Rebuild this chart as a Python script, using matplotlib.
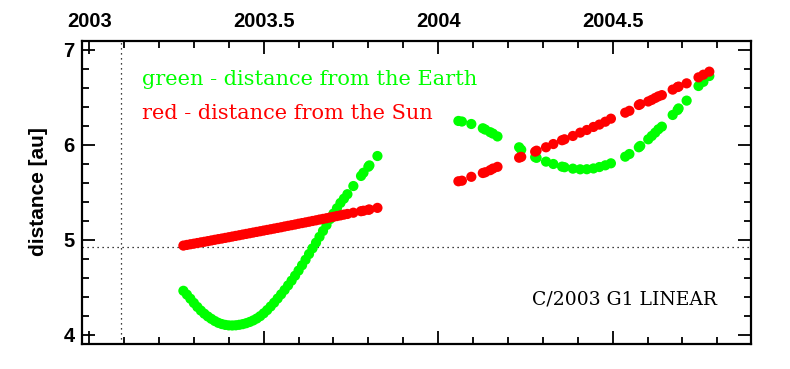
import matplotlib
matplotlib.use("Agg")
import matplotlib.pyplot as plt
from matplotlib.ticker import MultipleLocator, FixedLocator

# ---------------- data ----------------
# dense part of 2003 (dates in decimal years)
dates_2003 = [2003.27, 2003.28, 2003.29, 2003.30, 2003.31, 2003.32, 2003.33, 2003.34,
              2003.35, 2003.36, 2003.37, 2003.38, 2003.39, 2003.40, 2003.41, 2003.42,
              2003.43, 2003.44, 2003.45, 2003.46, 2003.47, 2003.48, 2003.49, 2003.50,
              2003.51, 2003.52, 2003.53, 2003.54, 2003.55, 2003.56, 2003.57, 2003.58,
              2003.59, 2003.60, 2003.61, 2003.62, 2003.63, 2003.64, 2003.65, 2003.66,
              2003.67, 2003.68, 2003.69, 2003.70, 2003.71, 2003.72, 2003.73, 2003.74,
              2003.757, 2003.779, 2003.786, 2003.800, 2003.803, 2003.826]
earth_2003 = [4.465, 4.425, 4.382, 4.337, 4.295, 4.257, 4.224, 4.195,
              4.170, 4.147, 4.128, 4.115, 4.106, 4.101, 4.100, 4.102,
              4.107, 4.114, 4.124, 4.137, 4.153, 4.173, 4.198, 4.228,
              4.262, 4.300, 4.340, 4.384, 4.428, 4.474, 4.522, 4.572,
              4.624, 4.678, 4.734, 4.792, 4.852, 4.912, 4.972, 5.033,
              5.095, 5.157, 5.220, 5.278, 5.334, 5.390, 5.435, 5.482,
              5.568, 5.674, 5.708, 5.771, 5.785, 5.884]
sun_2003 = [4.941, 4.948, 4.955, 4.961, 4.968, 4.975, 4.981, 4.988,
            4.995, 5.002, 5.009, 5.015, 5.022, 5.029, 5.036, 5.043,
            5.050, 5.057, 5.064, 5.071, 5.078, 5.085, 5.092, 5.099,
            5.106, 5.113, 5.120, 5.127, 5.134, 5.142, 5.149, 5.156,
            5.163, 5.171, 5.178, 5.185, 5.192, 5.200, 5.207, 5.215,
            5.222, 5.229, 5.237, 5.244, 5.252, 5.259, 5.267, 5.274,
            5.287, 5.303, 5.308, 5.318, 5.321, 5.338]

dates_2004 = [2004.058, 2004.068, 2004.095, 2004.128, 2004.135, 2004.149, 2004.157,
              2004.170, 2004.232, 2004.238, 2004.278, 2004.282, 2004.309, 2004.330,
              2004.355, 2004.362, 2004.386, 2004.407, 2004.426, 2004.445, 2004.462,
              2004.479, 2004.495, 2004.536, 2004.548, 2004.575, 2004.579, 2004.602,
              2004.612, 2004.622, 2004.631, 2004.641, 2004.672, 2004.686, 2004.689,
              2004.712, 2004.746, 2004.760, 2004.777]
earth_2004 = [6.253, 6.247, 6.221, 6.176, 6.162, 6.135, 6.120,
              6.090, 5.976, 5.950, 5.872, 5.865, 5.825, 5.800,
              5.772, 5.766, 5.751, 5.744, 5.745, 5.753, 5.768,
              5.786, 5.807, 5.877, 5.905, 5.976, 5.990, 6.060,
              6.095, 6.130, 6.165, 6.193, 6.316, 6.368, 6.385,
              6.467, 6.621, 6.665, 6.726]
sun_2004 = [5.618, 5.624, 5.665, 5.705, 5.713, 5.735, 5.752,
            5.770, 5.866, 5.875, 5.930, 5.940, 5.976, 6.010,
            6.050, 6.060, 6.095, 6.130, 6.158, 6.190, 6.215,
            6.245, 6.277, 6.340, 6.360, 6.421, 6.430, 6.458,
            6.475, 6.495, 6.512, 6.525, 6.583, 6.610, 6.615,
            6.649, 6.712, 6.740, 6.772]

perihelion_q = 4.923        # horizontal dotted line
perihelion_date = 2003.092  # vertical dotted line

x_major = [2003, 2003.5, 2004, 2004.5]
x_labels = ["2003", "2003.5", "2004", "2004.5"]
y_major = [4, 5, 6, 7]

label_earth = "green - distance from the Earth"
label_sun = "red - distance from the Sun"
comet_name = "C/2003 G1 LINEAR"

# ---------------- figure ----------------
W, H = 790, 369
fig = plt.figure(figsize=(W / 100, H / 100), dpi=100)
ax = fig.add_axes([81.5 / W, 1 - 344 / H, (750.5 - 81.5) / W, (344 - 40.5) / H])

green = "#00ff00"
red = "#ff0000"
ms = 54

ax.scatter(dates_2003, earth_2003, s=ms, color=green, edgecolors="none", zorder=3)
ax.scatter(dates_2004, earth_2004, s=ms, color=green, edgecolors="none", zorder=3)
ax.scatter(dates_2003, sun_2003, s=ms, color=red, edgecolors="none", zorder=4)
ax.scatter(dates_2004, sun_2004, s=ms, color=red, edgecolors="none", zorder=4)

ax.axhline(perihelion_q, color="black", lw=0.9, ls=(0, (1, 3)), zorder=1)
ax.axvline(perihelion_date, color="black", lw=0.9, ls=(0, (1, 3)), zorder=1)

ax.set_xlim(2002.978, 2004.895)
ax.set_ylim(3.905, 7.1)

ax.xaxis.set_major_locator(FixedLocator(x_major))
ax.set_xticklabels(x_labels)
ax.xaxis.set_minor_locator(MultipleLocator(0.1))
ax.yaxis.set_major_locator(FixedLocator(y_major))
ax.yaxis.set_minor_locator(MultipleLocator(0.2))

ax.tick_params(which="both", direction="in", top=True, bottom=True, left=True, right=True,
               labeltop=True, labelbottom=False, labelleft=True, labelright=False,
               width=1.3, color="black")
ax.tick_params(which="major", length=9.5)
ax.tick_params(which="minor", length=5)
ax.tick_params(axis="x", which="major", pad=7)
ax.tick_params(axis="y", which="major", pad=5)
for lab in ax.get_xticklabels() + ax.get_yticklabels():
    lab.set_fontfamily("Liberation Sans")
    lab.set_fontweight("bold")
    lab.set_fontsize(14.5)

for sp in ax.spines.values():
    sp.set_linewidth(1.6)

fig.text(39 / W, 1 - 192 / H, "distance [au]", rotation=90, ha="center", va="center",
         fontfamily="Liberation Sans", fontweight="bold", fontsize=15)

serif = "DejaVu Serif"
fig.text(142 / W, 1 - 85 / H, label_earth, color=green, ha="left", va="baseline",
         fontfamily=serif, fontsize=15)
fig.text(142 / W, 1 - 119 / H, label_sun, color=red, ha="left", va="baseline",
         fontfamily=serif, fontsize=15)
fig.text(532 / W, 1 - 305 / H, comet_name, color="black", ha="left", va="baseline",
         fontfamily=serif, fontsize=13.5)

fig.savefig("out.png", dpi=100)
